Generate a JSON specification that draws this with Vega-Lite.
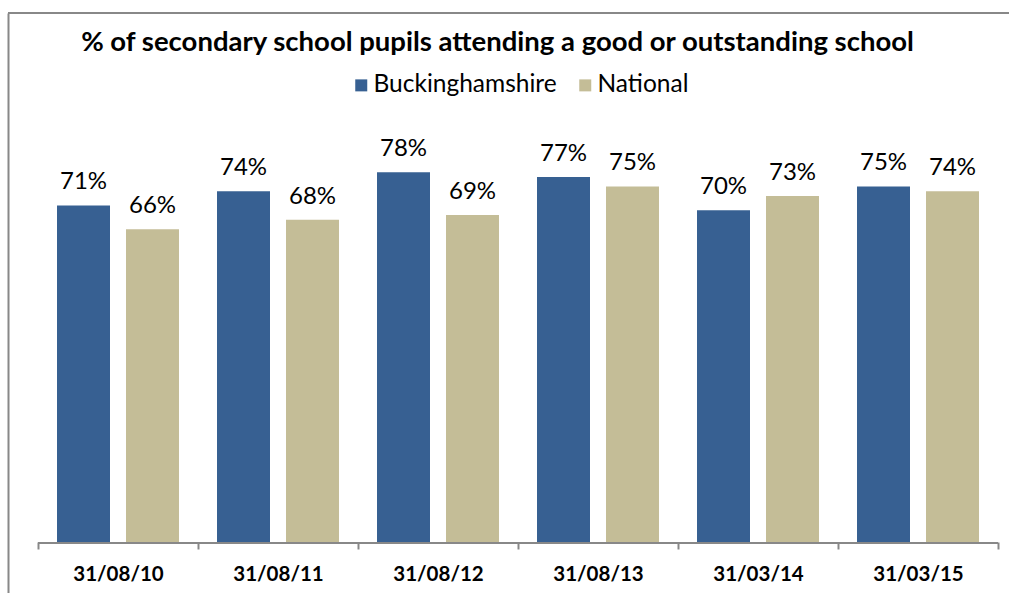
{
  "$schema": "https://vega.github.io/schema/vega-lite/v6.json",
  "autosize": {"type": "none"},
  "padding": {"left": 8, "top": 13, "right": 0, "bottom": 0},
  "width": 1001,
  "height": 580,
  "background": "white",
  "title": {
    "text": "% of secondary school pupils attending a good or outstanding school",
    "font": "Lato",
    "fontSize": 27.5,
    "fontWeight": "bold",
    "color": "black",
    "anchor": "middle",
    "frame": "group",
    "orient": "top",
    "baseline": "alphabetic",
    "offset": 0,
    "dx": -11,
    "dy": 66
  },
  "data": {
    "values": [
      {"date": "31/08/10", "area": "Buckinghamshire", "value": 0.71},
      {"date": "31/08/10", "area": "National", "value": 0.66},
      {"date": "31/08/11", "area": "Buckinghamshire", "value": 0.74},
      {"date": "31/08/11", "area": "National", "value": 0.68},
      {"date": "31/08/12", "area": "Buckinghamshire", "value": 0.78},
      {"date": "31/08/12", "area": "National", "value": 0.69},
      {"date": "31/08/13", "area": "Buckinghamshire", "value": 0.77},
      {"date": "31/08/13", "area": "National", "value": 0.75},
      {"date": "31/03/14", "area": "Buckinghamshire", "value": 0.70},
      {"date": "31/03/14", "area": "National", "value": 0.73},
      {"date": "31/03/15", "area": "Buckinghamshire", "value": 0.75},
      {"date": "31/03/15", "area": "National", "value": 0.74}
    ]
  },
  "layer": [
    {
      "mark": {"type": "bar", "fill": "#888888"},
      "encoding": {
        "x": {
          "field": "date",
          "type": "nominal",
          "sort": null,
          "scale": {"paddingInner": 0, "paddingOuter": 0.128125, "align": 0.7317},
          "axis": {
            "title": null,
            "orient": "bottom",
            "offset": -51,
            "domain": false,
            "ticks": true,
            "tickBand": "extent",
            "tickSize": 7,
            "tickColor": "#888888",
            "tickWidth": 2,
            "labelAngle": 0,
            "labelFont": "Lato",
            "labelFontSize": 20.5,
            "labelFontWeight": "bold",
            "labelColor": "black",
            "labelPadding": 15
          }
        },
        "y": {"datum": 0, "type": "quantitative"},
        "y2": {"datum": -0.004}
      }
    },
    {
      "mark": {"type": "bar"},
      "encoding": {
        "x": {"field": "date", "type": "nominal", "sort": null},
        "xOffset": {
          "field": "area",
          "type": "nominal",
          "sort": ["Buckinghamshire", "National"],
          "scale": {"paddingInner": 0.232, "paddingOuter": 0.2755}
        },
        "y": {
          "field": "value",
          "type": "quantitative",
          "scale": {"domain": [-0.1076, 1.116], "nice": false, "zero": false},
          "axis": {
            "title": null,
            "domain": true,
            "domainColor": "#888888",
            "domainWidth": 2,
            "ticks": false,
            "labels": false,
            "grid": false
          }
        },
        "y2": {"datum": 0},
        "color": {
          "field": "area",
          "type": "nominal",
          "sort": ["Buckinghamshire", "National"],
          "scale": {"domain": ["Buckinghamshire", "National"], "range": ["#376092", "#C4BD97"]},
          "legend": {
            "title": null,
            "orient": "none",
            "direction": "horizontal",
            "legendX": 341,
            "legendY": 60,
            "symbolType": "square",
            "symbolSize": 144,
            "symbolStrokeWidth": 0,
            "labelFont": "Lato",
            "labelFontSize": 24.5,
            "labelColor": "black",
            "labelOffset": 0,
            "labelLimit": 0,
            "columnPadding": 16
          }
        }
      }
    },
    {
      "mark": {"type": "text", "font": "Lato", "fontSize": 24, "color": "black", "baseline": "alphabetic", "dy": -16},
      "encoding": {
        "x": {"field": "date", "type": "nominal", "sort": null},
        "xOffset": {
          "field": "area",
          "type": "nominal",
          "sort": ["Buckinghamshire", "National"]
        },
        "y": {"field": "value", "type": "quantitative"},
        "text": {"field": "value", "type": "quantitative", "format": ".0%"}
      }
    },
    {
      "mark": {"type": "rule", "color": "#888888", "strokeWidth": 2},
      "encoding": {
        "y": {"datum": 1.116}
      }
    }
  ],
  "config": {
    "view": {"stroke": null}
  }
}
